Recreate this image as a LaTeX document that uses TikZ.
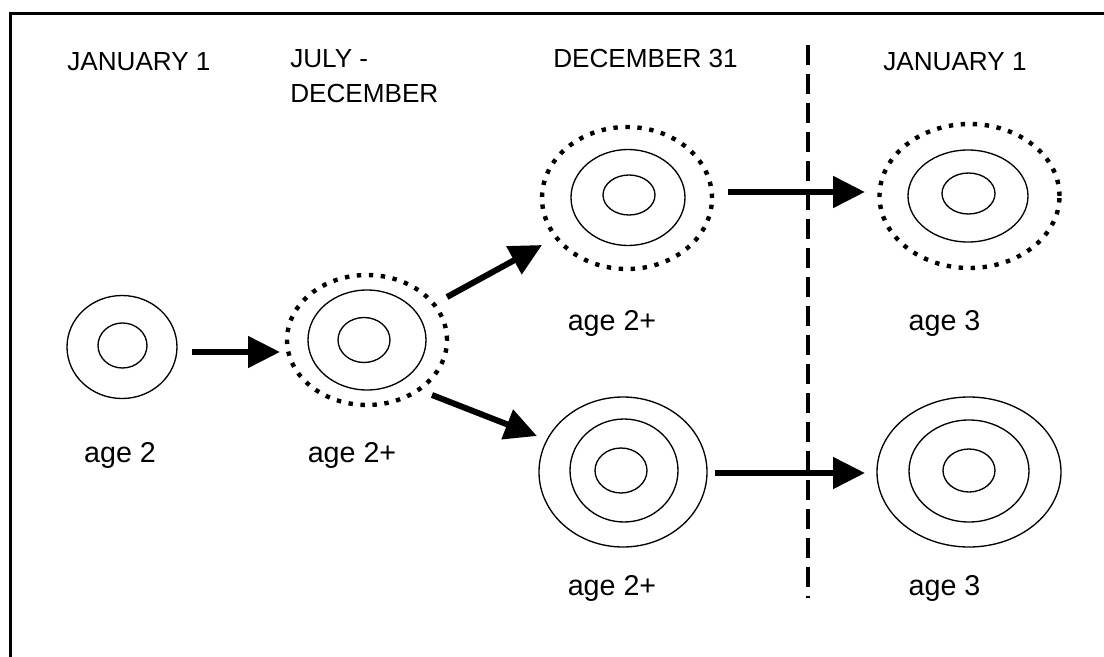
\documentclass[tikz,border=0pt]{standalone}
\usepackage{fontspec}
\setmainfont{Liberation Sans}
\usetikzlibrary{shapes.geometric,arrows.meta}
\begin{document}
\begin{tikzpicture}[x=0.75pt,y=-0.75pt,
  ring/.style={ellipse,draw,inner sep=0pt,outer sep=0pt,line width=1pt},
  dotring/.style={ellipse,draw,inner sep=0pt,outer sep=0pt,line width=3.3pt,dash pattern=on 3.3pt off 5.7pt},
  growth/.style={line width=4.5pt,-{Triangle[length=24pt,width=23pt]}},
  head/.style={inner sep=0pt,font=\fontsize{19.6}{26.25}\selectfont},
  lab/.style={inner sep=0pt,anchor=base,font=\fontsize{21.5}{24}\selectfont},
  frame/.style={line width=2.25pt},
  divider/.style={line width=3pt,dash pattern=on 15pt off 6.75pt}]
\useasboundingbox (0,0) rectangle (1104,657);
\clip (0,0) rectangle (1104,657);
\fill[white] (0,0) rectangle (1104,657);
% frame
\draw[frame] (10.3,680) -- (10.3,13.7) -- (1130,13.7);
% headers
\node[head,anchor=base west] (h1) at (67,70) {JANUARY 1};
\node[head,anchor=base west,align=left] (h2) at (290,102) {JULY -\\DECEMBER};
\node[head,anchor=base west] (h3) at (553,67) {DECEMBER 31};
\node[head,anchor=base west] (h4) at (883,70) {JANUARY 1};
% divider
\coordinate (dtop) at (808,45);
\coordinate (dbot) at (808,598);
\draw[divider] (dtop) -- (dbot);
% C1
\node[ring,minimum width=82.5pt,minimum height=77.25pt] (c1o) at (122,347) {};
\node[ring,minimum width=36.75pt,minimum height=33.75pt] (c1i) at (122.5,345.5) {};
% C2
\node[dotring,minimum width=120pt,minimum height=97.5pt] (c2d) at (367,340) {};
\node[ring,minimum width=88.5pt,minimum height=75pt] (c2m) at (367,340) {};
\node[ring,minimum width=39pt,minimum height=33.75pt] (c2i) at (364,340) {};
% C3
\node[dotring,minimum width=127.5pt,minimum height=106.5pt] (c3d) at (627,198) {};
\node[ring,minimum width=85.5pt,minimum height=72pt] (c3m) at (628,197.5) {};
\node[ring,minimum width=39pt,minimum height=30pt] (c3i) at (629,195) {};
% C4
\node[dotring,minimum width=135pt,minimum height=108pt] (c4d) at (969.5,196) {};
\node[ring,minimum width=90pt,minimum height=69pt] (c4m) at (968,196) {};
\node[ring,minimum width=39.75pt,minimum height=30.75pt] (c4i) at (968.5,193.5) {};
% C5
\node[ring,minimum width=126pt,minimum height=112.5pt] (c5o) at (623,472) {};
\node[ring,minimum width=81pt,minimum height=77.25pt] (c5m) at (624,470.5) {};
\node[ring,minimum width=39pt,minimum height=33.75pt] (c5i) at (621,470.5) {};
% C6
\node[ring,minimum width=138pt,minimum height=112.5pt] (c6o) at (969,472) {};
\node[ring,minimum width=90pt,minimum height=76.5pt] (c6m) at (969,471) {};
\node[ring,minimum width=39pt,minimum height=32.25pt] (c6i) at (969,470.5) {};
% labels
\node[lab] (l1) at (120,462) {age 2};
\node[lab] (l2) at (352,462) {age 2+};
\node[lab] (l3) at (612,330) {age 2+};
\node[lab] (l4) at (944.5,330) {age 3};
\node[lab] (l5) at (612,595) {age 2+};
\node[lab] (l6) at (944.5,595) {age 3};
% arrow ends
\coordinate (a1s) at (192,352);  \coordinate (a1e) at (280,352);
\coordinate (a2s) at (447,297);  \coordinate (a2e) at (542,245);
\coordinate (a3s) at (432,395);  \coordinate (a3e) at (537,436);
\coordinate (a4s) at (728,192);  \coordinate (a4e) at (865,192);
\coordinate (a5s) at (715,473);  \coordinate (a5e) at (865,473);
\draw[growth] (a1s) -- (a1e);
\draw[growth] (a2s) -- (a2e);
\draw[growth] (a3s) -- (a3e);
\draw[growth] (a4s) -- (a4e);
\draw[growth] (a5s) -- (a5e);
\end{tikzpicture}
\end{document}
